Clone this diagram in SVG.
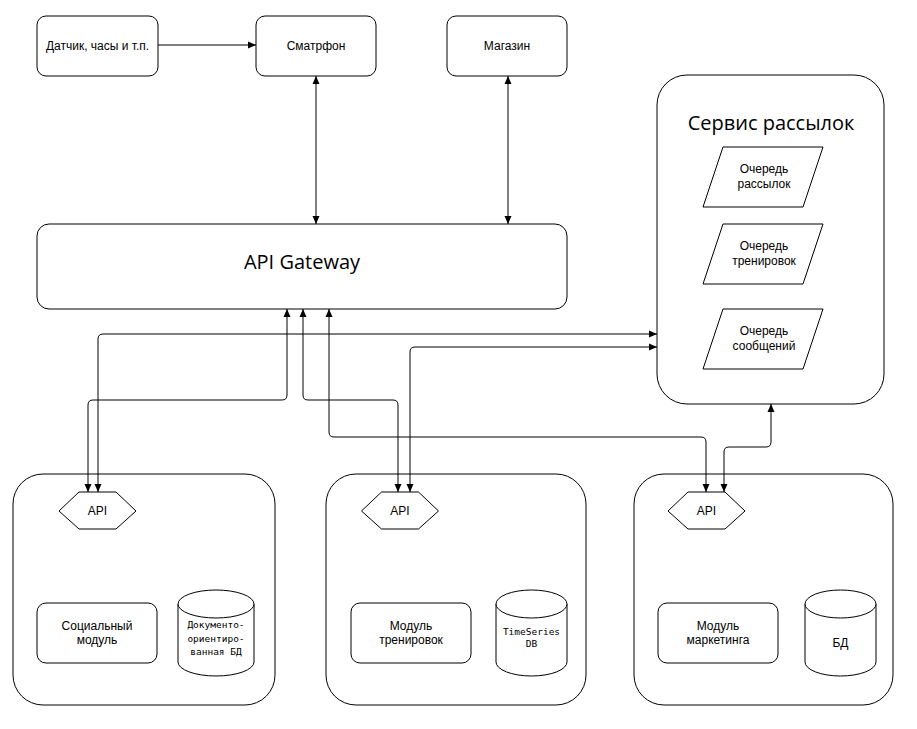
<svg xmlns="http://www.w3.org/2000/svg" width="917" height="729" viewBox="0 0 917 729">
<style>
.box{fill:#fff;stroke:#000;stroke-width:1}
.t{font-family:"Liberation Sans",Arial,sans-serif;font-size:12px;fill:#000;text-anchor:middle;dominant-baseline:central}
.big{font-family:"Open Sans",sans-serif;font-size:20px;fill:#000;text-anchor:middle;dominant-baseline:central}
.mono{font-family:"DejaVu Sans Mono",monospace;font-size:9.5px;fill:#000;text-anchor:middle;dominant-baseline:central}
.ln{fill:none;stroke:#000;stroke-width:1;marker-end:url(#ah)}
.bi{marker-start:url(#ah)}
</style>
<defs>
<marker id="ah" markerUnits="userSpaceOnUse" markerWidth="8" markerHeight="8" viewBox="0 0 8 8" refX="8" refY="4" orient="auto-start-reverse">
<path d="M0,0.5 L8,4 L0,7.5 z" fill="#000"/>
</marker>
</defs>
<rect width="917" height="729" fill="#fff"/>

<g id="module-social-container"><rect class="box" x="13" y="474" width="262" height="231" rx="30"/></g>
<g id="module-training-container"><rect class="box" x="326" y="474" width="260" height="231" rx="30"/></g>
<g id="module-marketing-container"><rect class="box" x="634" y="474" width="259" height="231" rx="30"/></g>
<g id="service"><rect class="box" x="657" y="75" width="227" height="329" rx="30"/>
<text class="big" x="771" y="122">Сервис рассылок</text></g>

<g id="sensor"><rect class="box" x="37" y="16" width="121" height="60" rx="9"/><text class="t" x="97.5" y="46">Датчик, часы и т.п.</text></g>
<g id="phone"><rect class="box" x="256" y="16" width="120" height="60" rx="9"/><text class="t" x="316" y="46">Сматрфон</text></g>
<g id="shop"><rect class="box" x="447" y="16" width="120" height="60" rx="9"/><text class="t" x="507" y="46">Магазин</text></g>
<g id="gateway"><rect class="box" x="37" y="224" width="530" height="85" rx="12"/><text class="big" x="302" y="261">API Gateway</text></g>

<g id="queue-mail"><polygon class="box" points="723,147 823,147 803,207 703,207"/><text class="t" x="764" y="169">Очередь</text><text class="t" x="764" y="184">рассылок</text></g>
<g id="queue-train"><polygon class="box" points="723,224 823,224 803,284 703,284"/><text class="t" x="764" y="246">Очередь</text><text class="t" x="764" y="261">тренировок</text></g>
<g id="queue-msg"><polygon class="box" points="723,309 823,309 803,369 703,369"/><text class="t" x="764" y="331">Очередь</text><text class="t" x="764" y="346">сообщений</text></g>

<g id="api1"><polygon class="box" points="59,511 79,492 116,492 136,511 116,529 79,529"/><text class="t" x="97.5" y="511">API</text></g>
<g id="api2"><polygon class="box" points="361.5,511 381.5,492 418.5,492 438.5,511 418.5,529 381.5,529"/><text class="t" x="400" y="511">API</text></g>
<g id="api3"><polygon class="box" points="668,511 688,492 725,492 745,511 725,529 688,529"/><text class="t" x="706.5" y="511">API</text></g>

<g id="social"><rect class="box" x="37" y="603" width="120" height="60" rx="9"/><text class="t" x="97" y="626">Социальный</text><text class="t" x="97" y="640">модуль</text></g>
<g id="training"><rect class="box" x="351" y="603" width="120" height="60" rx="9"/><text class="t" x="411" y="626">Модуль</text><text class="t" x="411" y="640">тренировок</text></g>
<g id="marketing"><rect class="box" x="658" y="603" width="120" height="60" rx="9"/><text class="t" x="718" y="626">Модуль</text><text class="t" x="718" y="640">маркетинга</text></g>

<g id="db-doc"><path class="box" d="M178,604 A38,14 0 0 1 254,604 V662 A38,14 0 0 1 178,662 Z"/><path class="box" fill="none" d="M178,604 A38,14 0 0 0 254,604"/>
<text class="mono" x="216" y="624">Документо-</text><text class="mono" x="216" y="638">ориентиро-</text><text class="mono" x="216" y="651">ванная БД</text></g>
<g id="db-ts"><path class="box" d="M496,604 A35.5,14 0 0 1 567,604 V662 A35.5,14 0 0 1 496,662 Z"/><path class="box" fill="none" d="M496,604 A35.5,14 0 0 0 567,604"/>
<text class="mono" x="531.5" y="631">TimeSeries</text><text class="mono" x="531.5" y="643">DB</text></g>
<g id="db-mkt"><path class="box" d="M805,604 A35.5,14 0 0 1 876,604 V662 A35.5,14 0 0 1 805,662 Z"/><path class="box" fill="none" d="M805,604 A35.5,14 0 0 0 876,604"/>
<text class="t" x="840.5" y="643">БД</text></g>

<g id="connectors">
<path class="ln" d="M158,45 H256"/>
<path class="ln bi" d="M316,76 V224"/>
<path class="ln bi" d="M508,76 V224"/>
<path class="ln bi" d="M287,309 V395 Q287,400 282,400 H93 Q88,400 88,405 V492"/>
<path class="ln bi" d="M98,492 V339 Q98,334 103,334 H657"/>
<path class="ln bi" d="M303,309 V395 Q303,400 308,400 H393 Q398,400 398,405 V492"/>
<path class="ln bi" d="M410,492 V352 Q410,347 415,347 H657"/>
<path class="ln bi" d="M329,309 V432 Q329,437 334,437 H701 Q706,437 706,442 V492"/>
<path class="ln bi" d="M771,404 V442 Q771,447 766,447 H729 Q724,447 724,452 V492"/>
</g>
</svg>
